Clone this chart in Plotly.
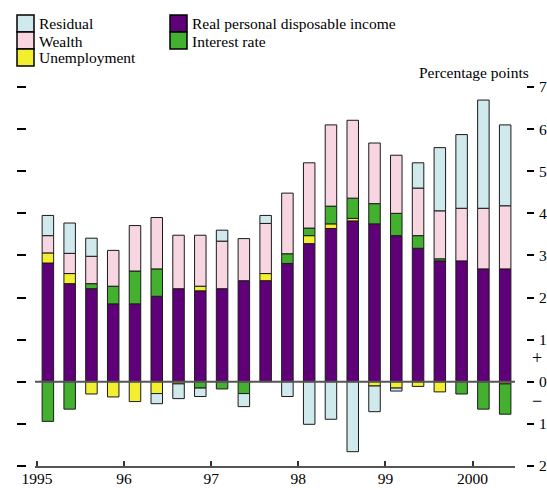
import plotly.graph_objects as go

quarters = ["1995Q1","1995Q2","1995Q3","1995Q4","1996Q1","1996Q2","1996Q3","1996Q4",
            "1997Q1","1997Q2","1997Q3","1997Q4","1998Q1","1998Q2","1998Q3","1998Q4",
            "1999Q1","1999Q2","1999Q3","1999Q4","2000Q1","2000Q2"]

rpdi = [2.82, 2.33, 2.21, 1.85, 1.85, 2.03, 2.21, 2.16, 2.21, 2.40, 2.40,
        2.81, 3.28, 3.64, 3.82, 3.75, 3.47, 3.17, 2.87, 2.87, 2.68, 2.68]
unemployment = [0.24, 0.24, -0.29, -0.36, -0.47, -0.28, -0.05, 0.11, None, None, 0.17,
                None, 0.19, 0.11, 0.06, -0.10, -0.15, -0.11, -0.24, None, None, -0.05]
interest = [-0.94, -0.65, 0.12, 0.42, 0.78, 0.65, None, -0.15, -0.17, -0.28, None,
            0.23, 0.18, 0.42, 0.48, 0.48, 0.53, 0.30, 0.05, -0.29, -0.65, -0.72]
wealth = [0.41, 0.48, 0.65, 0.85, 1.08, 1.22, 1.27, 1.21, 1.13, 1.00, 1.19,
          1.44, 1.55, 1.93, 1.85, 1.44, 1.38, 1.13, 1.14, 1.25, 1.44, 1.50]
residual = [0.48, 0.72, 0.43, None, None, -0.24, -0.35, -0.20, 0.26, -0.31, 0.19,
            -0.35, -1.01, -0.89, -1.66, -0.61, -0.07, 0.60, 1.50, 1.75, 2.57, 1.92]

year_ticks = [1995, 1996, 1997, 1998, 1999, 2000]
year_labels = ["1995", "96", "97", "98", "99", "2000"]
y_ticks = [-2, -1, 0, 1, 2, 3, 4, 5, 6, 7]
y_labels = ["2", "1", "0", "1", "2", "3", "4", "5", "6", "7"]

C_RES = "#d0e9ec"
C_WEA = "#f7d6e2"
C_UNE = "#f2ee30"
C_RPD = "#600078"
C_INT = "#43b02f"

FONT = "Liberation Serif, Times New Roman, serif"
FS = 15.5

x = [int(q[:4]) + (int(q[-1]) - 0.5) / 4 for q in quarters]

W, H = 547, 488
# paper edges in window pixels: left 26, right 526, top 87, bottom 466
ML, MR, MT, MB = 26, W - 526, 87, H - 466
PW = W - ML - MR
PH = H - MT - MB


def px(xp):
    """window x pixel -> paper fraction"""
    return (xp - ML) / PW


def py(yp):
    """window y pixel -> paper fraction"""
    return (H - MB - yp) / PH


fig = go.Figure()
series = [("Real personal disposable income", rpdi, C_RPD),
          ("Unemployment", unemployment, C_UNE),
          ("Interest rate", interest, C_INT),
          ("Wealth", wealth, C_WEA),
          ("Residual", residual, C_RES)]
for name, vals, col in series:
    fig.add_trace(go.Bar(x=x, y=vals, name=name, width=0.132, marker_color=col,
                         marker_line_color="#1a1a1a", marker_line_width=1,
                         showlegend=False))
fig.add_trace(go.Scatter(x=[None], y=[None], yaxis="y2", showlegend=False))

x0d = px(35)
x1d = px(515)

fig.update_layout(
    width=W, height=H,
    margin=dict(l=ML, r=MR, t=MT, b=MB, autoexpand=False),
    barmode="relative",
    plot_bgcolor="white", paper_bgcolor="white",
    font=dict(family=FONT, size=FS, color="black"),
    xaxis=dict(domain=[x0d, x1d], range=[1995 - 2 / 87.1, 1995 + (515 - 37) / 87.1],
               tickvals=year_ticks, ticktext=year_labels, ticks="inside", ticklen=5,
               tickwidth=1.5, tickcolor="#333", showline=True, linecolor="#555",
               linewidth=2, showgrid=False, zeroline=False, automargin=False,
               ticklabelstandoff=-3),
    yaxis=dict(range=[-2, 7], anchor="free", position=0, tickvals=y_ticks,
               ticks="outside", ticklen=9, tickwidth=2, tickcolor="black",
               showticklabels=False, showgrid=False, zeroline=False, showline=False,
               automargin=False),
    yaxis2=dict(range=[-2, 7], overlaying="y", side="right", anchor="free", position=1,
                tickvals=y_ticks, ticktext=y_labels, ticks="outside", ticklen=7,
                tickwidth=1.5, tickcolor="black", showgrid=False, zeroline=False,
                showline=False, automargin=False, ticklabelstandoff=2),
)

# zero line above bars
fig.add_shape(type="line", xref="paper", yref="y", x0=x0d, x1=x1d, y0=0, y1=0,
              line=dict(color="#555", width=2), layer="above")

# signs and unit label
fig.add_annotation(text="+", xref="paper", yref="y", x=px(537), y=0.57, showarrow=False,
                   xanchor="center", yanchor="middle", font=dict(size=18))
fig.add_annotation(text="\u2212", xref="paper", yref="y", x=px(537), y=-0.45, showarrow=False,
                   xanchor="center", yanchor="middle", font=dict(size=18))
fig.add_annotation(text="Percentage points", xref="paper", yref="paper", x=px(531),
                   y=py(73), showarrow=False, xanchor="right", yanchor="middle",
                   font=dict(size=FS))

# manual legend
legend_items = [("Residual", C_RES, 17, 15), ("Wealth", C_WEA, 17, 32),
                ("Unemployment", C_UNE, 17, 49),
                ("Real personal disposable income", C_RPD, 170, 15),
                ("Interest rate", C_INT, 170, 32)]
for label, col, lx, ly in legend_items:
    fig.add_shape(type="rect", xref="paper", yref="paper", x0=px(lx), x1=px(lx + 17),
                  y0=py(ly + 17), y1=py(ly), fillcolor=col,
                  line=dict(color="black", width=1.5))
    fig.add_annotation(text=label, xref="paper", yref="paper", x=px(lx + 20),
                       y=py(ly + 9), showarrow=False, xanchor="left", yanchor="middle",
                       font=dict(size=FS))

fig.write_html("out.html", config={"displayModeBar": False},
               post_script="document.body.style.margin='0';"
                           "document.body.style.overflow='hidden';")
